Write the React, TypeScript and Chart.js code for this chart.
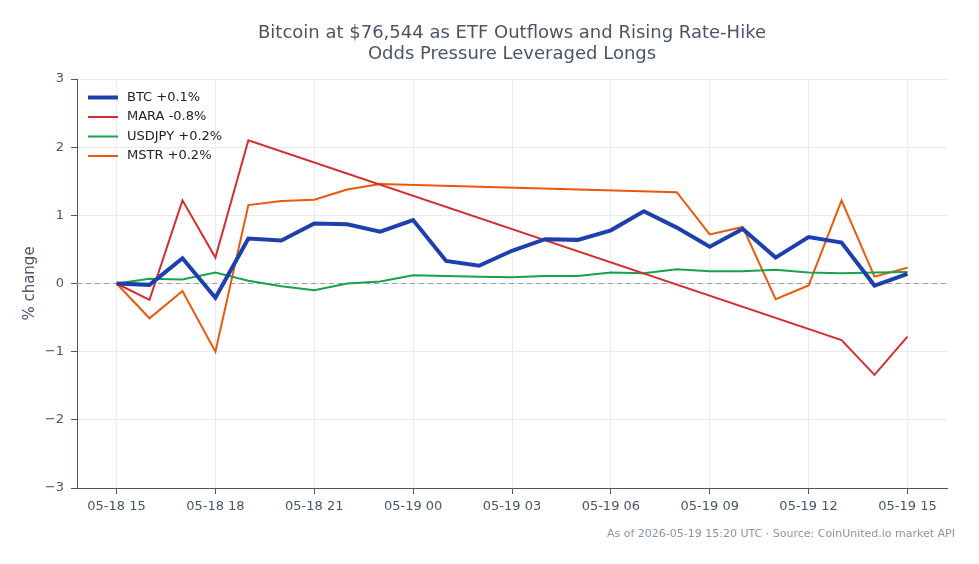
import { useEffect, useRef } from "react";
import { Chart, registerables } from "chart.js";

Chart.register(...registerables);

// Hours elapsed since 05-18 15:00 UTC (hourly samples)
const hoursElapsed = [0, 1, 2, 3, 4, 5, 6, 7, 8, 9, 10, 11, 12, 13, 14, 15, 16, 17, 18, 19, 20, 21, 22, 23, 24];

// Axis labels every three hours
const tickHours = [0, 3, 6, 9, 12, 15, 18, 21, 24];
const tickLabels = ["05-18 15", "05-18 18", "05-18 21", "05-19 00", "05-19 03", "05-19 06", "05-19 09", "05-19 12", "05-19 15"];

// % change since the start of the window
const btcChange = [0, -0.02, 0.37, -0.21, 0.66, 0.63, 0.88, 0.87, 0.76, 0.93, 0.33, 0.26, 0.48, 0.65, 0.64, 0.78, 1.06, 0.82, 0.54, 0.8, 0.38, 0.68, 0.6, -0.03, 0.14];
const maraChange: (number | null)[] = [0, -0.24, 1.22, 0.38, 2.1, null, null, null, null, null, null, null, null, null, null, null, null, null, null, null, null, null, -0.83, -1.34, -0.78];
const usdjpyChange = [0, 0.07, 0.06, 0.16, 0.04, -0.04, -0.1, 0.0, 0.03, 0.12, 0.11, 0.1, 0.09, 0.11, 0.11, 0.16, 0.15, 0.21, 0.18, 0.18, 0.2, 0.16, 0.15, 0.16, 0.17];
const mstrChange: (number | null)[] = [0, -0.51, -0.11, -1.0, 1.15, 1.21, 1.23, 1.38, 1.46, null, null, null, null, null, null, null, null, 1.34, 0.72, 0.83, -0.23, -0.03, 1.22, 0.1, 0.23];

const seriesNames = ["BTC +0.1%", "MARA -0.8%", "USDJPY +0.2%", "MSTR +0.2%"];
const seriesColors = ["#1e40af", "#d32f2f", "#16a34a", "#ea580c"];
const seriesWidths = [4, 2, 2, 2];

const titleLines = ["Bitcoin at $76,544 as ETF Outflows and Rising Rate-Hike", "Odds Pressure Leveraged Longs"];
const footerText = "As of 2026-05-19 15:20 UTC · Source: CoinUnited.io market API";

const FONT = "'DejaVu Sans', sans-serif";
const INK = "#4a5568";

const decorPlugin = {
  id: "decor",
  beforeDatasetsDraw(chart: any) {
    const { ctx, chartArea, scales } = chart;
    const y0 = Math.round(scales.y.getPixelForValue(0)) - 0.5;
    ctx.save();
    ctx.strokeStyle = "#94a0b8";
    ctx.lineWidth = 1;
    ctx.setLineDash([5, 4]);
    ctx.beginPath();
    ctx.moveTo(chartArea.left, y0);
    ctx.lineTo(chartArea.right, y0);
    ctx.stroke();
    ctx.restore();
  },
  afterDraw(chart: any) {
    const { ctx, chartArea, width } = chart;
    ctx.save();
    // title, centred over the plot area
    ctx.fillStyle = INK;
    ctx.font = `18px ${FONT}`;
    ctx.textAlign = "center";
    ctx.textBaseline = "middle";
    const cx = (chartArea.left + chartArea.right) / 2;
    titleLines.forEach((line, i) => ctx.fillText(line, cx, 25 + i * 21.5));

    // legend in the upper-left corner of the plot
    ctx.textAlign = "left";
    ctx.font = `13px ${FONT}`;
    seriesNames.forEach((name, i) => {
      const y = chartArea.top + 18.5 + i * 19.5;
      const x = chartArea.left + 11;
      ctx.strokeStyle = seriesColors[i];
      ctx.lineWidth = seriesWidths[i];
      ctx.beginPath();
      ctx.moveTo(x, y);
      ctx.lineTo(x + 30, y);
      ctx.stroke();
      ctx.fillStyle = "#222222";
      ctx.fillText(name, x + 39, y);
    });

    // source note
    ctx.fillStyle = "#8a93a5";
    ctx.font = `11px ${FONT}`;
    ctx.textAlign = "right";
    ctx.fillText(footerText, width - 16, 526);
    ctx.restore();
  },
};

export default function App() {
  const canvasRef = useRef<HTMLCanvasElement | null>(null);

  useEffect(() => {
    if (!canvasRef.current) return;
    const seriesValues = [btcChange, maraChange, usdjpyChange, mstrChange];
    const chart = new Chart(canvasRef.current, {
      type: "line",
      data: {
        datasets: seriesValues.map((vals, i) => ({
          label: seriesNames[i],
          data: vals.map((v, j) => ({ x: hoursElapsed[j], y: v })),
          borderColor: seriesColors[i],
          backgroundColor: seriesColors[i],
          borderWidth: seriesWidths[i],
          pointRadius: 0,
          tension: 0,
          spanGaps: true,
          order: i,
        })),
      },
      options: {
        responsive: false,
        animation: false,
        layout: { padding: { top: 71, right: 24, bottom: 0, left: 0 } },
        plugins: {
          legend: { display: false },
          title: { display: false },
          tooltip: { enabled: false },
        },
        scales: {
          x: {
            type: "linear",
            min: -1.2,
            max: 25.2,
            afterBuildTicks: (scale: any) => {
              scale.ticks = tickHours.map((h) => ({ value: h }));
            },
            afterFit: (scale: any) => {
              scale.height = 68;
            },
            ticks: {
              autoSkip: false,
              maxRotation: 0,
              padding: 5,
              color: INK,
              font: { family: FONT, size: 13 },
              callback: (value: any) => {
                const idx = tickHours.indexOf(Number(value));
                return idx >= 0 ? tickLabels[idx] : "";
              },
            },
            grid: { color: "#e8ecf1", tickColor: INK, tickLength: 6, lineWidth: 1 },
            border: { color: INK, width: 1 },
          },
          y: {
            min: -3,
            max: 3,
            afterFit: (scale: any) => {
              scale.width = 69;
            },
            ticks: {
              stepSize: 1,
              padding: 7,
              color: INK,
              font: { family: FONT, size: 13 },
              callback: (value: any) => String(value).replace("-", "\u2212"),
            },
            grid: { color: "#e8ecf1", tickColor: INK, tickLength: 6, lineWidth: 1 },
            border: { color: INK, width: 1 },
            title: {
              display: true,
              text: "% change",
              color: INK,
              font: { family: FONT, size: 15 },
              padding: { top: 13, bottom: 0 },
            },
          },
        },
      },
      plugins: [decorPlugin],
    });
    return () => chart.destroy();
  }, []);

  return <canvas ref={canvasRef} width={963} height={548} style={{ display: "block" }} />;
}
